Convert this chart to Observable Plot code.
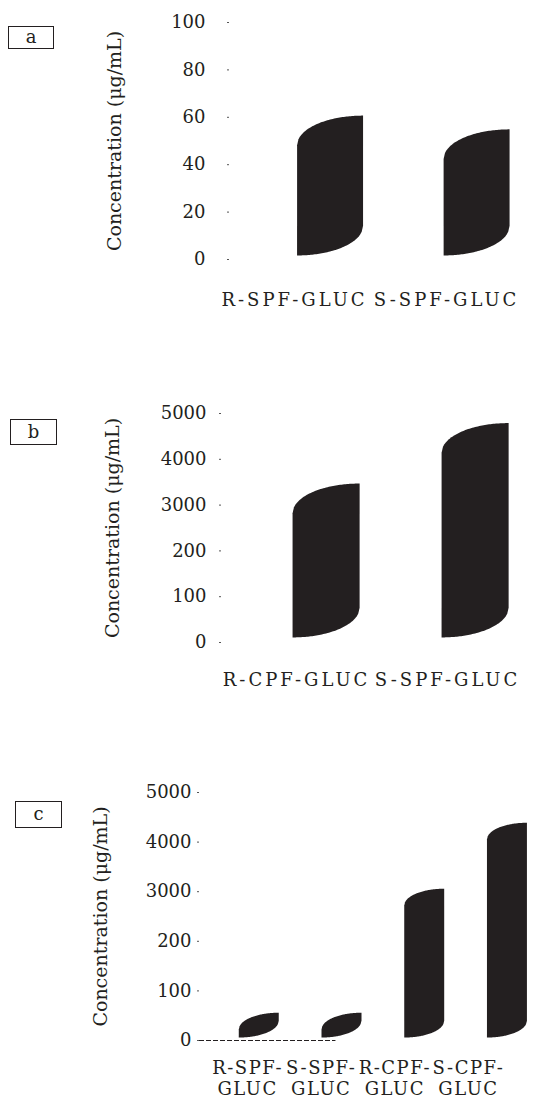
<!DOCTYPE html>
<html><head><meta charset="utf-8">
<script src="https://cdn.jsdelivr.net/npm/d3@7"></script>
<script src="https://cdn.jsdelivr.net/npm/@observablehq/plot@0.6"></script>
<style>
html,body{margin:0;padding:0;background:#fff;}
#root{position:relative;width:550px;height:1098px;overflow:hidden;font-family:"DejaVu Serif",serif;color:#231f20;}
.panel{position:absolute;left:0;}
.tag{position:absolute;border:1.5px solid #231f20;box-sizing:border-box;text-align:center;font-size:18px;font-family:"DejaVu Serif",serif;}
.panel [aria-label="x-axis tick label"] text{letter-spacing:3px}
.panel.pc [aria-label="x-axis tick label"] text{letter-spacing:1.5px}
</style></head><body><div id="root"></div>
<script>
const yTitle = "Concentration (μg/mL)";
const tags = ["a", "b", "c"];

// Panel a
const catsA = ["R-SPF-GLUC", "S-SPF-GLUC"];
const valsA = [60.5, 54.7];
const ticksA = [0, 20, 40, 60, 80, 100];

// Panel b (axis labels as printed; ticks are evenly spaced)
const catsB = ["R-CPF-GLUC", "S-SPF-GLUC"];
const valsB = [3460, 4780];
const tickLabelsB = [0, 100, 200, 3000, 4000, 5000];

// Panel c
const catsC = ["R-SPF-\nGLUC", "S-SPF-\nGLUC", "R-CPF-\nGLUC", "S-CPF-\nGLUC"];
const valsC = [55, 55, 3050, 4380];
const tickLabelsC = [0, 100, 200, 3000, 4000, 5000];

const INK = "#231f20";

function shapes(cats, vals, o) {
  const N = 48, pts = [];
  cats.forEach((c, i) => {
    const cx = o.offset + i * o.step;
    for (let k = 0; k <= N; k++) {
      const t = k / N;
      pts.push({
        key: c,
        x: cx + (t - 0.5) * o.width,
        y1: o.base + o.skew * (1 - Math.sqrt(1 - t * t)),
        y2: vals[i] - o.skew + o.skew * Math.sqrt(1 - (1 - t) * (1 - t))
      });
    }
  });
  return pts;
}

function panel(cfg) {
  const {cats, vals, yTicks, yFormat, yDomain, xDomain, shape, ml, tickPad, height, mt, mb, titleDx, xPad, extra} = cfg;
  return Plot.plot({
    width: 550, height,
    marginLeft: ml, marginRight: 0, marginTop: mt, marginBottom: mb,
    style: {fontFamily: "DejaVu Serif", fontSize: "18px", color: INK, background: "transparent", overflow: "visible"},
    x: {type: "linear", domain: xDomain},
    y: {domain: yDomain},
    marks: [
      Plot.axisY({ticks: yTicks, tickFormat: yFormat, tickSize: 2, tickPadding: tickPad, label: null, stroke: "#555", fontSize: 18}),
      Plot.axisX({ticks: d3.range(cats.length), tickFormat: i => cats[i], tickSize: 0, tickPadding: xPad, label: null, fontSize: 18, lineHeight: 1.2}),
      ...(extra || []),
      Plot.areaY(shapes(cats, vals, shape), {x: "x", y1: "y1", y2: "y2", z: "key", fill: INK, curve: "linear"}),
      Plot.text([yTitle], {text: d => d, frameAnchor: "left", rotate: -90, dx: titleDx, fontSize: 19, lineAnchor: "middle", textAnchor: "middle", fill: INK})
    ]
  });
}

const root = document.getElementById("root");
function place(node, top, cls) {
  const d = document.createElement("div");
  d.className = "panel" + (cls ? " " + cls : ""); d.style.top = top + "px";
  d.appendChild(node); root.appendChild(d);
}
function tag(txt, left, top, w, h) {
  const d = document.createElement("div");
  d.className = "tag"; d.textContent = txt;
  Object.assign(d.style, {left: left + "px", top: top + "px", width: w + "px", height: h + "px", lineHeight: (h - 3) + "px"});
  root.appendChild(d);
}

// Panel a
place(panel({
  cats: catsA, vals: valsA, yTicks: ticksA, yFormat: d => String(d), yDomain: [0, 100],
  xDomain: [-0.428, 1.684], ml: 229, tickPad: 22, height: 320, mt: 22, mb: 61, titleDx: -115, xPad: 31,
  shape: {offset: 0.237, step: 0.964, width: 0.434, skew: 12.5, base: 1.5}
}), 0);

// Panel b
const posB = d3.scaleLinear().domain(tickLabelsB).range(d3.range(tickLabelsB.length));
place(panel({
  cats: catsB, vals: valsB.map(posB), yTicks: d3.range(tickLabelsB.length), yFormat: i => String(tickLabelsB[i]), yDomain: [0, 5],
  xDomain: [-0.497, 1.682], ml: 221, tickPad: 13, height: 320, mt: 33, mb: 58, titleDx: -109, xPad: 28,
  shape: {offset: 0.199, step: 0.987, width: 0.444, skew: 0.65, base: 0.1}
}), 380);

// Panel c
const posC = d3.scaleLinear().domain(tickLabelsC).range(d3.range(tickLabelsC.length));
place(panel({
  cats: catsC, vals: valsC.map(posC), yTicks: d3.range(tickLabelsC.length), yFormat: i => String(tickLabelsC[i]), yDomain: [0, 5],
  xDomain: [-0.654, 4.115], ml: 199, tickPad: 6, height: 338, mt: 32, mb: 58, titleDx: -99, xPad: 18,
  shape: {offset: 0.158, step: 1.124, width: 0.543, skew: 0.34, base: 0.05},
  extra: [Plot.ruleY([0], {x1: -0.654, x2: 1.2, stroke: INK, strokeDasharray: "5,2"})]
}), 760, "pc");

tag(tags[0], 8, 26, 46, 23);
tag(tags[1], 10, 419, 47, 26);
tag(tags[2], 15, 801, 47, 27);
</script></body></html>
